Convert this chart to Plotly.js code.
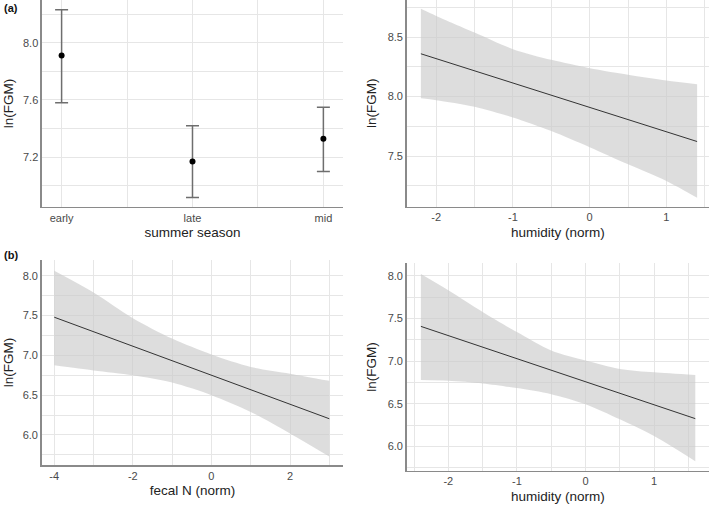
<!DOCTYPE html>
<html>
<head>
<meta charset="utf-8">
<script src="https://cdn.plot.ly/plotly-3.0.1.min.js"></script>
<style>
  html, body { margin: 0; padding: 0; background: #fff; }
  #chart { width: 709px; height: 505px; }
</style>
</head>
<body>
<div id="chart"></div>
<script>
// (a) season means with confidence intervals
const season = ['early', 'late', 'mid'];
const seasonMean = [7.91, 7.17, 7.33];
const seasonUpper = [8.23, 7.42, 7.55];
const seasonLower = [7.58, 6.92, 7.10];

// (a) humidity effect
const humA_x = [-2.2, -2, -1.5, -1, -0.5, 0, 0.5, 1, 1.4];
const humA_upper = [8.74, 8.68, 8.54, 8.40, 8.31, 8.24, 8.185, 8.136, 8.105];
const humA_lower = [7.986, 7.97, 7.915, 7.824, 7.71, 7.574, 7.43, 7.29, 7.148];
const humA_lineX = [-2.2, 1.4];
const humA_lineY = [8.361, 7.622];
const humA_ticks = [-2, -1, 0, 1];

// (b) fecal N effect
const fecN_x = [-4, -3, -2, -1, 0, 1, 2, 3];
const fecN_upper = [8.063, 7.79, 7.467, 7.21, 7.01, 6.854, 6.77, 6.68];
const fecN_lower = [6.875, 6.81, 6.75, 6.658, 6.50, 6.29, 6.02, 5.73];
const fecN_lineX = [-4, 3];
const fecN_lineY = [7.479, 6.204];
const fecN_ticks = [-4, -2, 0, 2];

// (b) humidity effect
const humB_x = [-2.4, -2, -1.5, -1, -0.5, 0, 0.5, 1, 1.6];
const humB_upper = [8.02, 7.83, 7.576, 7.34, 7.124, 7.006, 6.908, 6.868, 6.837];
const humB_lower = [6.778, 6.77, 6.739, 6.684, 6.613, 6.495, 6.318, 6.122, 5.827];
const humB_lineX = [-2.4, 1.6];
const humB_lineY = [7.407, 6.326];
const humB_ticks = [-2, -1, 0, 1];

const seasonIdx = season.map((s, i) => i);

const bandCol = 'rgba(200,200,200,0.62)';
const lineCol = '#333333';
const fontFam = 'Liberation Sans, Arial, sans-serif';

function band(x, lo, hi, xa, ya) {
    return [
        {x: x, y: lo, xaxis: xa, yaxis: ya, mode: 'lines', line: {width: 0, shape: 'spline', smoothing: 0.8}, showlegend: false},
        {x: x, y: hi, xaxis: xa, yaxis: ya, mode: 'lines', line: {width: 0, shape: 'spline', smoothing: 0.8}, fill: 'tonexty', fillcolor: bandCol, showlegend: false}
    ];
}
function fit(x, y, xa, ya) {
    return {x: x, y: y, xaxis: xa, yaxis: ya, mode: 'lines', line: {color: lineCol, width: 1}, showlegend: false};
}

let traces = [];
traces.push({
    x: seasonIdx, y: seasonMean, xaxis: 'x', yaxis: 'y',
    mode: 'markers', marker: {color: '#000', size: 6},
    error_y: {
        type: 'data', symmetric: false,
        array: seasonUpper.map((u, i) => u - seasonMean[i]),
        arrayminus: seasonLower.map((l, i) => seasonMean[i] - l),
        color: '#6e6e6e', thickness: 1.5, width: 6.5
    },
    showlegend: false
});
traces = traces.concat(band(humA_x, humA_lower, humA_upper, 'x2', 'y2'));
traces.push(fit(humA_lineX, humA_lineY, 'x2', 'y2'));
traces = traces.concat(band(fecN_x, fecN_lower, fecN_upper, 'x3', 'y3'));
traces.push(fit(fecN_lineX, fecN_lineY, 'x3', 'y3'));
traces = traces.concat(band(humB_x, humB_lower, humB_upper, 'x4', 'y4'));
traces.push(fit(humB_lineX, humB_lineY, 'x4', 'y4'));

const gridCol = '#e6e6e6';
const tickFont = {family: fontFam, size: 11, color: '#4a4a4a'};
const titleFont = {family: fontFam, size: 13.5, color: '#222'};

function xax(domain, range, ticks, minorDtick, anchor, title) {
    return {
        domain: domain, range: range, anchor: anchor,
        tickmode: 'array', tickvals: ticks, ticktext: ticks.map(String),
        showgrid: true, gridcolor: gridCol, gridwidth: 1,
        minor: {tick0: 0, dtick: minorDtick, showgrid: true, gridcolor: gridCol, gridwidth: 1},
        zeroline: false, showline: true, linecolor: '#8a8a8a', linewidth: 1.5,
        ticks: '', tickfont: tickFont,
        title: {text: title, font: titleFont, standoff: 5}
    };
}
function yax(domain, range, dtick, minorDtick, anchor, standoff) {
    return {
        domain: domain, range: range, anchor: anchor,
        dtick: dtick, tickformat: '.1f', showgrid: true, gridcolor: gridCol, gridwidth: 1,
        minor: {dtick: minorDtick, showgrid: true, gridcolor: gridCol, gridwidth: 1},
        zeroline: false, showline: true, linecolor: '#8a8a8a', linewidth: 1.5,
        ticks: '', tickfont: tickFont,
        title: {text: 'ln(FGM)', font: titleFont, standoff: standoff}
    };
}

let xa1 = xax([0.0592, 0.4838], [-0.15, 2.15], seasonIdx, 1, 'y', 'summer season');
xa1.ticktext = season;
xa1.minor = {tick0: 0.5, dtick: 1, showgrid: true, gridcolor: gridCol, gridwidth: 1};

const layout = {
    width: 709, height: 505,
    margin: {l: 0, r: 0, t: 0, b: 0},
    paper_bgcolor: '#fff', plot_bgcolor: '#fff',
    showlegend: false,
    xaxis: xa1,
    yaxis: yax([0.5901, 1], [6.853, 8.298], 0.4, 0.2, 'x', 6),
    xaxis2: xax([0.5736, 1], [-2.385, 1.555], humA_ticks, 0.5, 'y2', 'humidity (norm)'),
    yaxis2: yax([0.5907, 1], [7.073, 8.814], 0.5, 0.25, 'x2', 8),
    xaxis3: xax([0.0588, 0.4842], [-4.32, 3.356], fecN_ticks, 1, 'y3', 'fecal N (norm)'),
    yaxis3: yax([0.0792, 0.4851], [5.623, 8.197], 0.5, 0.25, 'x3', 6),
    xaxis4: xax([0.5736, 1], [-2.607, 1.80], humB_ticks, 0.5, 'y4', 'humidity (norm)'),
    yaxis4: yax([0.0683, 0.4786], [5.718, 8.146], 0.5, 0.25, 'x4', 8),
    annotations: [
        {text: '<b>(a)</b>', xref: 'paper', yref: 'paper', x: 0.003, y: 1 - 8 / 505, xanchor: 'left', yanchor: 'middle', showarrow: false,
         font: {family: fontFam, size: 11, color: '#111'}},
        {text: '<b>(b)</b>', xref: 'paper', yref: 'paper', x: 0.003, y: 1 - 255 / 505, xanchor: 'left', yanchor: 'middle', showarrow: false,
         font: {family: fontFam, size: 11, color: '#111'}}
    ]
};

Plotly.newPlot('chart', traces, layout, {staticPlot: true});
</script>
</body>
</html>
